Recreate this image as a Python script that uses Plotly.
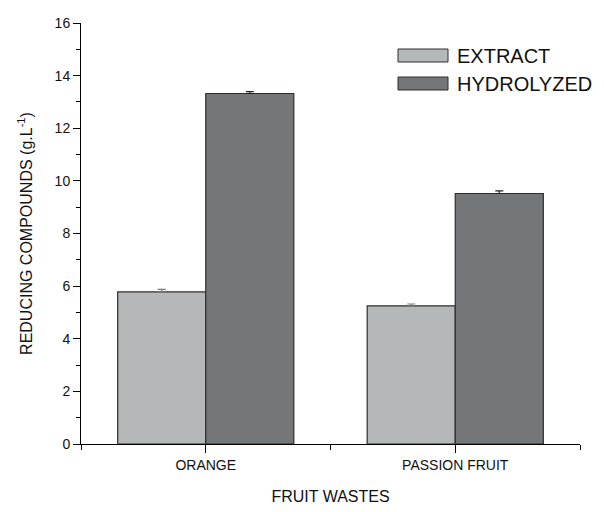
import plotly.graph_objects as go

categories = ["ORANGE", "PASSION FRUIT"]
series_names = ["EXTRACT", "HYDROLYZED"]
extract = [5.78, 5.25]
extract_err = [0.10, 0.07]
hydrolyzed = [13.32, 9.52]
hydrolyzed_err = [0.07, 0.10]
y_ticks = [0, 2, 4, 6, 8, 10, 12, 14, 16]

colors = ["#b4b8b8", "#737779"]
err_colors = ["#777777", "#222222"]
FONT = "Arial, Liberation Sans, sans-serif"
xpos = list(range(len(categories)))

fig = go.Figure()
for name, vals, errs, col, ecol in zip(series_names, [extract, hydrolyzed],
                                       [extract_err, hydrolyzed_err], colors, err_colors):
    fig.add_trace(go.Bar(
        x=xpos, y=vals, name=name,
        marker=dict(color=col, line=dict(color="#2e2e2e", width=1.2)),
        error_y=dict(type="data", array=errs, arrayminus=[0] * len(errs),
                     symmetric=False, visible=True,
                     color=ecol, thickness=1.2, width=4),
        showlegend=False, hoverinfo="skip",
    ))

L, R, T, B = 81, 24, 23, 68
W, H = 604, 512
pw, ph = W - L - R, H - T - B

def px(x):
    return (x - L) / pw

def py(y):
    return (H - B - y) / ph

shapes = []
annotations = []
legend_rows = [(49, 62), (77, 90)]
for (y0, y1), name, col in zip(legend_rows, series_names, colors):
    shapes.append(dict(type="rect", xref="paper", yref="paper",
                       x0=px(398), x1=px(448), y0=py(y1), y1=py(y0),
                       fillcolor=col, line=dict(color="#2e2e2e", width=1)))
    annotations.append(dict(xref="paper", yref="paper", x=px(455),
                            y=py((y0 + y1) / 2), text=name, showarrow=False,
                            xanchor="left", yanchor="middle",
                            font=dict(family=FONT, size=20, color="#111")))

fig.update_layout(
    width=W, height=H,
    margin=dict(l=L, r=R, t=T, b=B, autoexpand=False),
    paper_bgcolor="white", plot_bgcolor="white",
    barmode="group", bargap=0.294, bargroupgap=0,
    font=dict(family=FONT, size=14, color="#111"),
    shapes=shapes, annotations=annotations,
    xaxis=dict(
        range=[-0.5, 1.5], tickmode="array", tickvals=xpos, ticktext=categories,
        showline=True, linecolor="black", linewidth=1, mirror=False,
        ticks="outside", ticklen=8, tickcolor="black", showgrid=False,
        zeroline=False, tickfont=dict(size=14), automargin=False,
        minor=dict(tickmode="array", tickvals=[-0.5, 0.5, 1.5], ticks="outside",
                   ticklen=5, tickcolor="black", showgrid=False),
        title=dict(text="FRUIT WASTES", font=dict(size=16), standoff=19),
    ),
    yaxis=dict(
        range=[0, 16], tickmode="array", tickvals=y_ticks,
        showline=True, linecolor="black", linewidth=1,
        ticks="outside", ticklen=7, tickcolor="black", showgrid=False,
        zeroline=False, tickfont=dict(size=14), automargin=False,
        minor=dict(dtick=1, ticks="outside", ticklen=4, tickcolor="black",
                   showgrid=False),
        title=dict(text="REDUCING COMPOUNDS (g.L<sup>-1</sup>)",
                   font=dict(size=16), standoff=18),
    ),
)

fig.write_html("out.html", config={"displayModeBar": False},
               post_script="document.body.style.margin='0';")
